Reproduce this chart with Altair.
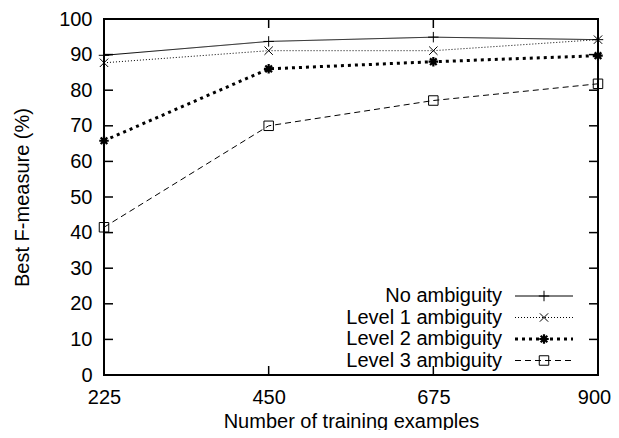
import altair as alt
import pandas as pd

# ---- data ----
X_VALUES = [225, 450, 675, 900]
SERIES = ["No ambiguity", "Level 1 ambiguity", "Level 2 ambiguity", "Level 3 ambiguity"]
NO_AMB = [89.8, 93.7, 94.9, 94.2]
LEVEL1 = [87.7, 91.1, 91.1, 94.2]
LEVEL2 = [65.8, 86.0, 88.0, 89.7]
LEVEL3 = [41.5, 70.0, 77.1, 81.8]
Y_TICKS = [0, 10, 20, 30, 40, 50, 60, 70, 80, 90, 100]
X_TICKS = [225, 450, 675, 900]

VALUES = [NO_AMB, LEVEL1, LEVEL2, LEVEL3]

# ---- layout / style constants ----
W, H = 494, 356
FONT = "Liberation Sans"
FS = 20
TICK = 9

PLUS = "M-1,0L1,0M0,-1L0,1"
CROSS = "M-1,-1L1,1M-1,1L1,-1"
STAR = "M-1,0L1,0M0,-1L0,1M-0.7,-0.7L0.7,0.7M-0.7,0.7L0.7,-0.7"

STYLES = [
    dict(dash=[1, 0], sw=1.0, shape=PLUS, size=110, msw=1.0),
    dict(dash=[1, 2], sw=1.0, shape=CROSS, size=70, msw=1.0),
    dict(dash=[3, 4], sw=3.0, shape=STAR, size=90, msw=2.2),
    dict(dash=[6, 4], sw=1.0, shape="square", size=90, msw=1.0),
]

xs = alt.Scale(domain=[225, 900], nice=False, zero=False)
ys = alt.Scale(domain=[0, 100], nice=False, zero=True)

x_axis = alt.Axis(values=X_TICKS, title="Number of training examples", ticks=False, tickSize=0,
                  domain=False, grid=False, labelPadding=12, labelFontSize=FS, titleFontSize=FS,
                  labelFont=FONT, titleFont=FONT, titleFontWeight="normal", labelColor="black",
                  titleColor="black", titleY=52, titleBaseline="alphabetic", labelFlush=False,
                  labelOffset={"expr": "datum.value == 900 ? -4 : 0"})
y_axis = alt.Axis(values=Y_TICKS, title="Best F-measure (%)", ticks=False, tickSize=0,
                  domain=False, grid=False, labelPadding=12, labelFontSize=FS, titleFontSize=FS,
                  labelFont=FONT, titleFont=FONT, titleFontWeight="normal", labelColor="black",
                  titleColor="black", titleX=-76, titleY=H / 2, titleBaseline="alphabetic",
                  labelFlush=False)


def X(field):
    return alt.X(field, scale=xs, axis=x_axis, title="Number of training examples")


def Y(field):
    return alt.Y(field, scale=ys, axis=y_axis, title="Best F-measure (%)")


layers = []

# series lines and markers
for i, (name, vals) in enumerate(zip(SERIES, VALUES)):
    st = STYLES[i]
    df = pd.DataFrame({"x": X_VALUES, "y": vals, "series": name})
    line = alt.Chart(df).mark_line(color="black", strokeWidth=st["sw"], strokeDash=st["dash"]).encode(
        x=X("x:Q"), y=Y("y:Q"))
    pts = alt.Chart(df).mark_point(shape=st["shape"], size=st["size"], filled=False, color="black",
                                   strokeWidth=st["msw"], opacity=1).encode(
        x=X("x:Q"), y=Y("y:Q"))
    layers += [line, pts]

# inner ticks (gnuplot style, mirrored)
ytdf = pd.DataFrame({"v": Y_TICKS})
xtdf = pd.DataFrame({"v": X_TICKS})
tick_style = dict(color="black", strokeWidth=1.5)
layers.append(alt.Chart(ytdf).mark_rule(**tick_style).encode(
    y=Y("v:Q"), x=alt.value(0), x2=alt.value(TICK)))
layers.append(alt.Chart(ytdf).mark_rule(**tick_style).encode(
    y=Y("v:Q"), x=alt.value(W - TICK), x2=alt.value(W)))
layers.append(alt.Chart(xtdf).mark_rule(**tick_style).encode(
    x=X("v:Q"), y=alt.value(0), y2=alt.value(TICK)))
layers.append(alt.Chart(xtdf).mark_rule(**tick_style).encode(
    x=X("v:Q"), y=alt.value(H - TICK), y2=alt.value(H)))

# legend (label on the left, sample on the right)
ROW0, ROWSTEP = 277, 21.5
TEXT_X, LINE_X0, LINE_X1 = 398, 411, 469
for i, name in enumerate(SERIES):
    st = STYLES[i]
    ry = ROW0 + i * ROWSTEP
    ldf = pd.DataFrame({"label": [name]})
    layers.append(alt.Chart(ldf).mark_text(align="right", baseline="middle", font=FONT, fontSize=FS,
                                           color="black").encode(
        text="label:N", x=alt.value(TEXT_X), y=alt.value(ry)))
    layers.append(alt.Chart(ldf).mark_rule(color="black", strokeWidth=st["sw"], strokeDash=st["dash"]).encode(
        x=alt.value(LINE_X0), x2=alt.value(LINE_X1), y=alt.value(ry)))
    layers.append(alt.Chart(ldf).mark_point(shape=st["shape"], size=st["size"], filled=False, color="black",
                                            strokeWidth=st["msw"], opacity=1).encode(
        x=alt.value((LINE_X0 + LINE_X1) / 2), y=alt.value(ry)))

chart = alt.layer(*layers).properties(
    width=W, height=H,
    autosize=alt.AutoSizeParams(type="none"),
    padding={"left": 96, "top": 11, "right": 13, "bottom": 55},
    background="white",
).configure_view(stroke="black", strokeWidth=2)

chart.save("out.html", embed_options={"renderer": "svg", "actions": False})
